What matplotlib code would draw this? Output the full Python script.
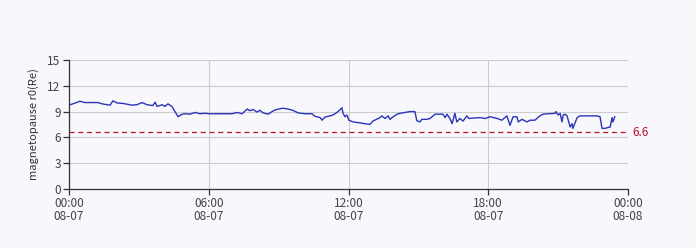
import matplotlib
matplotlib.use("Agg")
import matplotlib.pyplot as plt
import numpy as np

plt.rcParams['font.family'] = ['Noto Sans CJK SC', 'DejaVu Sans']

# minutes since 2024-08-07 00:00
minutes = [0, 10, 28, 41, 75, 85, 98, 106, 113, 124, 139, 162, 175, 188, 201, 209, 216, 222, 227,
           240, 247, 255, 265, 273, 281, 291, 299, 312, 325, 337, 350, 363, 389, 420, 433, 446,
           459, 466, 474, 484, 492, 500, 513, 523, 531, 551, 564, 577, 590, 608, 626, 634, 647,
           652, 659, 672, 680, 690, 698, 703, 706, 711, 716, 721, 732, 755, 775, 783, 801, 806,
           814, 822, 827, 835, 845, 853, 878, 891, 896, 904, 909, 922, 930, 943, 963, 969, 974,
           981, 987, 994, 999, 1007, 1015, 1025, 1030, 1041, 1059, 1072, 1085, 1103, 1115, 1128,
           1136, 1144, 1154, 1157, 1167, 1180, 1188, 1200, 1213, 1221, 1234, 1252, 1254, 1260,
           1265, 1270, 1273, 1278, 1283, 1291, 1296, 1298, 1309, 1316, 1342, 1360, 1368, 1373,
           1381, 1388, 1394, 1399, 1401, 1406]
r0 = [9.77, 9.9, 10.2, 10.05, 10.05, 9.9, 9.8, 9.75, 10.25, 10.0, 9.95, 9.75, 9.8, 10.05, 9.8,
      9.75, 9.7, 10.1, 9.6, 9.8, 9.6, 9.9, 9.6, 9.0, 8.4, 8.7, 8.75, 8.7, 8.9, 8.75, 8.8, 8.75,
      8.75, 8.75, 8.9, 8.75, 9.3, 9.1, 9.25, 8.95, 9.15, 8.85, 8.7, 9.0, 9.2, 9.4, 9.3, 9.15,
      8.85, 8.75, 8.75, 8.45, 8.3, 8.0, 8.35, 8.5, 8.6, 8.9, 9.2, 9.45, 8.8, 8.4, 8.6, 8.0, 7.8,
      7.65, 7.5, 7.9, 8.3, 8.5, 8.2, 8.5, 8.1, 8.4, 8.7, 8.8, 9.0, 9.0, 7.95, 7.8, 8.1, 8.1, 8.2,
      8.7, 8.7, 8.3, 8.7, 8.2, 7.6, 8.8, 7.8, 8.2, 7.9, 8.5, 8.2, 8.25, 8.3, 8.2, 8.4, 8.2, 8.0,
      8.5, 7.4, 8.4, 8.4, 7.8, 8.1, 7.8, 8.0, 8.0, 8.5, 8.7, 8.75, 8.8, 9.0, 8.6, 8.8, 7.8, 8.6,
      8.7, 8.5, 7.2, 7.6, 7.05, 8.3, 8.5, 8.5, 8.5, 8.4, 7.05, 7.05, 7.15, 7.2, 8.3, 7.8, 8.4]
threshold = 6.6
yticks = [0, 3, 6, 9, 12, 15]
xtick_minutes = [0, 360, 720, 1080, 1440]
xtick_labels = ["00:00\n08-07", "06:00\n08-07", "12:00\n08-07", "18:00\n08-07", "00:00\n08-08"]

bg = '#f7f7fc'
fig = plt.figure(figsize=(6.96, 2.48), dpi=100, facecolor=bg)
ax = fig.add_axes([69/696, 1-189/248, (628-69)/696, (189-60)/248], facecolor=bg)

ax.plot(minutes, r0, color='#2a35b8', lw=1.0)
ax.axhline(threshold, color='#b8122a', lw=0.9, ls=(0, (4, 3)))
ax.text(1440 + 12, threshold, f"{threshold}", color='#b8122a', fontsize=8.5, va='center', ha='left')

ax.set_xlim(0, 1440)
ax.set_ylim(0, 15)
ax.set_yticks(yticks)
ax.set_xticks(xtick_minutes)
ax.set_xticklabels(xtick_labels, linespacing=1.0)
ax.grid(True, color='#cccccc', lw=0.8)
ax.set_axisbelow(True)
for s in ['top', 'right']:
    ax.spines[s].set_visible(False)
for s in ['left', 'bottom']:
    ax.spines[s].set_color('#333333')
    ax.spines[s].set_linewidth(0.9)
ax.tick_params(axis='both', colors='#333333', labelcolor='#444444', labelsize=8.5, length=4, width=0.9, pad=2)
ax.set_ylabel("magnetopause r0(Re)", fontsize=8, color='#333333', labelpad=6)

fig.savefig("out.png", dpi=100, facecolor=bg)
